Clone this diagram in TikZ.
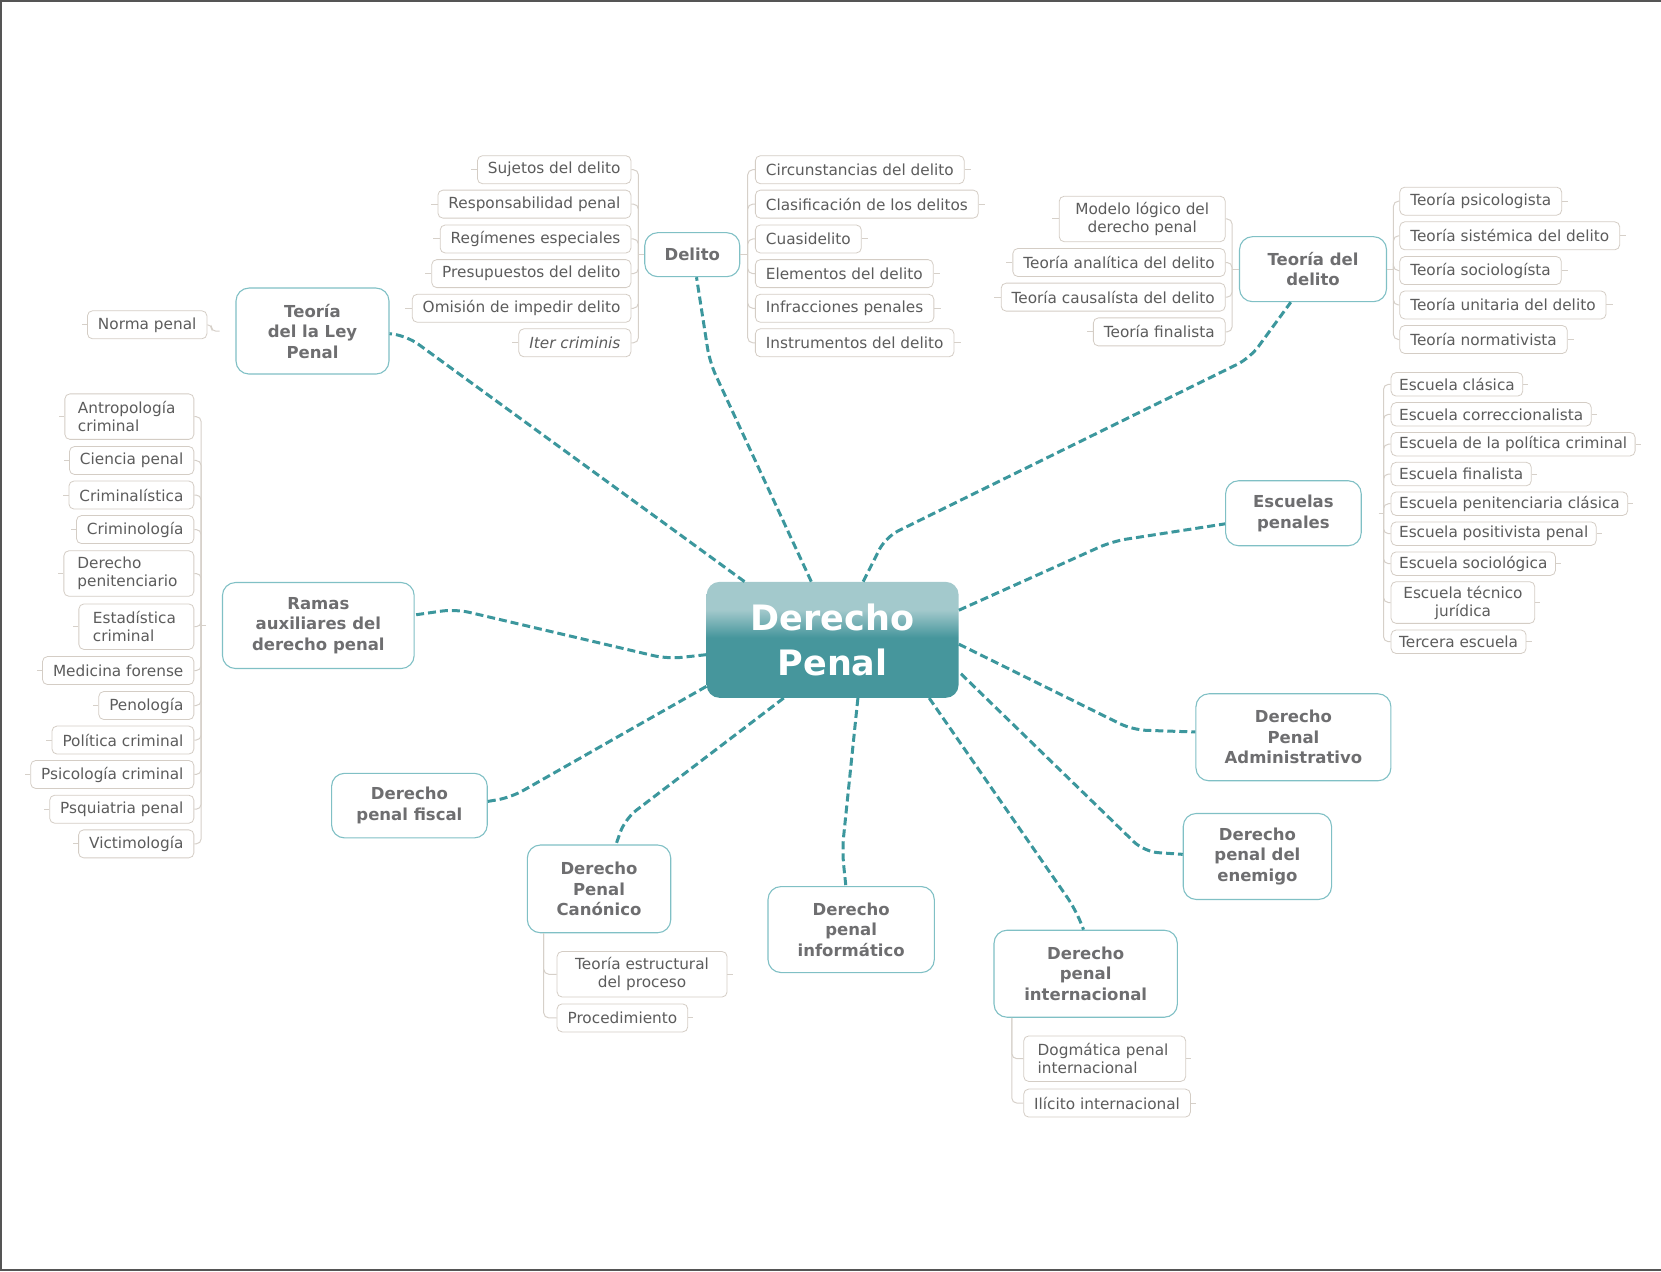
\documentclass[tikz,border=0pt]{standalone}
\usepackage{fontspec}
\setmainfont{DejaVu Sans}
\usetikzlibrary{calc}
\definecolor{tealc}{HTML}{3C979D}
\definecolor{brc}{HTML}{80C0C5}
\definecolor{btxt}{HTML}{6E6E70}
\definecolor{ltxt}{HTML}{5C5C5C}
\definecolor{leafc}{HTML}{D4CDC5}
\definecolor{lkc}{HTML}{D6D0C9}
\definecolor{hubdark}{HTML}{46969C}
\definecolor{hublight}{HTML}{A3C9CC}
\definecolor{framec}{HTML}{555555}
\pgfdeclareverticalshading{hubshade}{100bp}{color(0bp)=(hubdark); color(51bp)=(hubdark); color(63bp)=(hublight); color(100bp)=(hublight)}
\newcommand\leaffont{\fontsize{15.3pt}{18pt}\selectfont}
\newcommand\brfont{\fontsize{16.5pt}{20.5pt}\selectfont\bfseries}
\newcommand\hubfont{\fontsize{35pt}{45pt}\selectfont\bfseries}
\begin{document}
\begin{tikzpicture}[x=1.0593pt, y=-1.0593pt,
  hubst/.style={shading=hubshade, draw=none, rounded corners=13pt, minimum width=252pt, minimum height=116pt, text=white, font=\hubfont, align=center, inner sep=0pt},
  br/.style={draw=brc, line width=1.1pt, fill=white, rounded corners=13pt, text=btxt, font=\brfont, align=center, inner sep=2pt},
  leaf/.style={draw=leafc, line width=0.8pt, fill=white, rounded corners=5pt, text=ltxt, font=\leaffont, inner xsep=10.5pt, inner ysep=0pt, minimum height=28pt, align=left},
  leaftwo/.style={leaf, minimum height=45.5pt},
  escleaf/.style={leaf, inner xsep=8pt, minimum height=23.5pt},
  main/.style={draw=tealc, line width=3pt, dash pattern=on 8pt off 4pt, rounded corners=14pt},
  lk/.style={draw=lkc, line width=1pt, rounded corners=5pt}]
\useasboundingbox (0,0) rectangle (1568,1200);
\draw[framec, line width=2.2pt] (1568,1) -- (1,1) -- (1,1199) -- (1568,1199);

% hub
\node[hubst] (hub) at (786,604) {Derecho\\Penal};

% branches
\node[br, minimum width=153pt, minimum height=86pt] (ley) at (295,312.5) {Teoría\\del la Ley\\Penal};
\node[br, minimum width=95pt, minimum height=44pt] (delito) at (653.5,240.4) {Delito};
\node[br, minimum width=147pt, minimum height=65pt] (tdel) at (1239.5,254.1) {Teoría del\\delito};
\node[br, minimum width=135.6pt, minimum height=65pt] (esc) at (1221,484.5) {Escuelas\\penales};
\node[br, minimum width=195pt, minimum height=87pt] (adm) at (1221,696) {Derecho\\Penal\\Administrativo};
\node[br, minimum width=148.3pt, minimum height=86pt] (ene) at (1187,808.5) {Derecho\\penal del\\enemigo};
\node[br, minimum width=183.3pt, minimum height=87pt] (int) at (1024.9,919.2) {Derecho\\penal\\internacional};
\node[br, minimum width=166.3pt, minimum height=86pt] (inf) at (803.5,877.5) {Derecho\\penal\\informático};
\node[br, minimum width=143.4pt, minimum height=87.7pt] (can) at (565.5,839.1) {Derecho\\Penal\\Canónico};
\node[br, minimum width=155.7pt, minimum height=64.6pt] (fis) at (386.5,760.5) {Derecho\\penal fiscal};
\node[br, minimum width=191.7pt, minimum height=86pt] (ram) at (300.5,590.5) {Ramas\\auxiliares del\\derecho penal};

% main connectors
\draw[main] ($(hub.north west)+(36,0)$) -- (384,317) -- ($(ley.east)+(0,2.5)$);
\draw[main] ($(hub.north west)+(99,0)$) -- (670,342) -- ($(delito.south)+(4,0)$);
\draw[main] ($(hub.north west)+(148,0)$) -- (836,507) -- (1180,338) -- ($(tdel.south)+(-21,0)$);
\draw[main] ($(hub.north east)+(0,27)$) -- (1050,511) -- ($(esc.west)+(0,10)$);
\draw[main] ($(hub.north east)+(0,59)$) -- (1069,689) -- ($(adm.west)+(0,-5)$);
\draw[main] ($(hub.north east)+(2,87)$) -- (1080,804) -- ($(ene.west)+(0,-2)$);
\draw[main] ($(hub.south east)+(-28,0)$) -- (1015,858) -- ($(int.north)+(-2,0)$);
\draw[main] ($(hub.south west)+(143,0)$) -- (795,803) -- ($(inf.north)+(-5,0)$);
\draw[main] ($(hub.south west)+(73,0)$) -- (590,773) -- ($(can.north)+(16,0)$);
\draw[main] ($(hub.south west)+(0,-11)$) -- (482,753) -- ($(fis.east)+(0,-4)$);
\draw[main] ($(hub.west)+(0,14)$) -- (630,622) -- (430,575) -- ($(ram.east)+(0,-10)$);

% Teoria de la Ley
\node[leaf, anchor=east] (nor) at (195.7,306.6) {Norma penal};
\draw[lk, rounded corners=4pt] (nor.east) -- ++(4,0) |- ($(ley.west)+(-15,0)$);
\draw[lk] (nor.west) -- ++(-5,0);

% Delito left
\node[leaf, anchor=east] (dl1) at (596,160.2) {Sujetos del delito};
\node[leaf, anchor=east] (dl2) at (596,192.7) {Responsabilidad penal};
\node[leaf, anchor=east] (dl3) at (596,225.6) {Regímenes especiales};
\node[leaf, anchor=east] (dl4) at (596,258.3) {Presupuestos del delito};
\node[leaf, anchor=east] (dl5) at (596,291) {Omisión de impedir delito};
\node[leaf, anchor=east] (dl6) at (596,323.6) {\itshape Iter criminis};
\coordinate (dlb) at ($(delito.west)+(-5.5,0)$);
\draw[lk] (delito.west) -- (dlb);
\foreach \n in {dl1,dl2,dl3,dl4,dl5,dl6} {\draw[lk] (dlb) |- (\n.east); \draw[lk] (\n.west) -- ++(-6,0);}

% Delito right
\node[leaf, anchor=west] (dr1) at (712.7,160.2) {Circunstancias del delito};
\node[leaf, anchor=west] (dr2) at (712.7,192.7) {Clasificación de los delitos};
\node[leaf, anchor=west] (dr3) at (712.7,225.6) {Cuasidelito};
\node[leaf, anchor=west] (dr4) at (712.7,258.3) {Elementos del delito};
\node[leaf, anchor=west] (dr5) at (712.7,291) {Infracciones penales};
\node[leaf, anchor=west] (dr6) at (712.7,323.6) {Instrumentos del delito};
\coordinate (drb) at ($(delito.east)+(7,0)$);
\draw[lk] (delito.east) -- (drb);
\foreach \n in {dr1,dr2,dr3,dr4,dr5,dr6} {\draw[lk] (drb) |- (\n.west); \draw[lk] (\n.east) -- ++(6,0);}

% Teoria del delito left
\node[leaftwo, anchor=east, align=center, minimum width=166pt] (tl1) at (1157,206.7) {Modelo lógico del\\derecho penal};
\node[leaf, anchor=east] (tl2) at (1157,247.8) {Teoría analítica del delito};
\node[leaf, anchor=east] (tl3) at (1157,280.5) {Teoría causalísta del delito};
\node[leaf, anchor=east] (tl4) at (1157,313.3) {Teoría finalista};
\coordinate (tlb) at ($(tdel.west)+(-6.5,0)$);
\draw[lk] (tdel.west) -- (tlb);
\foreach \n in {tl1,tl2,tl3,tl4} {\draw[lk] (tlb) |- (\n.east); \draw[lk] (\n.west) -- ++(-6,0);}

% Teoria del delito right
\node[leaf, anchor=west] (tr1) at (1321,189.9) {Teoría psicologista};
\node[leaf, anchor=west] (tr2) at (1321,222.6) {Teoría sistémica del delito};
\node[leaf, anchor=west] (tr3) at (1321,255.4) {Teoría sociologísta};
\node[leaf, anchor=west] (tr4) at (1321,287.9) {Teoría unitaria del delito};
\node[leaf, anchor=west] (tr5) at (1321,320.5) {Teoría normativista};
\coordinate (trb) at ($(tdel.east)+(6,0)$);
\draw[lk] (tdel.east) -- (trb);
\foreach \n in {tr1,tr2,tr3,tr4,tr5} {\draw[lk] (trb) |- (\n.west); \draw[lk] (\n.east) -- ++(6,0);}

% Escuelas penales
\node[escleaf, anchor=west] (es1) at (1312.8,362.8) {Escuela clásica};
\node[escleaf, anchor=west] (es2) at (1312.8,391.1) {Escuela correccionalista};
\node[escleaf, anchor=west] (es3) at (1312.8,419.3) {Escuela de la política criminal};
\node[escleaf, anchor=west] (es4) at (1312.8,447.5) {Escuela finalista};
\node[escleaf, anchor=west] (es5) at (1312.8,475.5) {Escuela penitenciaria clásica};
\node[escleaf, anchor=west] (es6) at (1312.8,503.8) {Escuela positivista penal};
\node[escleaf, anchor=west] (es7) at (1312.8,532.1) {Escuela sociológica};
\node[escleaf, anchor=west, minimum height=41.7pt, minimum width=143.7pt, align=center] (es8) at (1312.8,568.8) {Escuela técnico\\jurídica};
\node[escleaf, anchor=west] (es9) at (1312.8,605.8) {Tercera escuela};
\coordinate (esb) at ($(esc.east)+(20.5,0)$);
\draw[lk] ($(esc.east)+(16,0)$) -- (esb);
\foreach \n in {es1,es2,es3,es4,es5,es6,es7,es8,es9} {\draw[lk] (esb) |- (\n.west); \draw[lk] (\n.east) -- ++(5,0);}

% Ramas auxiliares
\node[leaftwo, anchor=east, text width=103pt, inner xsep=13pt] (ra1) at (183.4,393.3) {Antropología\\criminal};
\node[leaf, anchor=east] (ra2) at (183.4,434.7) {Ciencia penal};
\node[leaf, anchor=east] (ra3) at (183.4,467.3) {Criminalística};
\node[leaf, anchor=east] (ra4) at (183.4,499.9) {Criminología};
\node[leaftwo, anchor=east, text width=103pt, inner xsep=13.5pt] (ra5) at (183.4,541.4) {Derecho\\penitenciario};
\node[leaftwo, anchor=east, text width=87pt, inner xsep=14pt] (ra6) at (183.4,591.6) {Estadística\\criminal};
\node[leaf, anchor=east] (ra7) at (183.4,633) {Medicina forense};
\node[leaf, anchor=east] (ra8) at (183.4,666) {Penología};
\node[leaf, anchor=east] (ra9) at (183.4,698.6) {Política criminal};
\node[leaf, anchor=east] (ra10) at (183.4,731.1) {Psicología criminal};
\node[leaf, anchor=east] (ra11) at (183.4,763.9) {Psquiatria penal};
\node[leaf, anchor=east] (ra12) at (183.4,796.6) {Victimología};
\coordinate (rab) at ($(ram.west)+(-19.6,0)$);
\draw[lk] ($(ram.west)+(-15,0)$) -- (rab);
\foreach \n in {ra1,ra2,ra3,ra4,ra5,ra6,ra7,ra8,ra9,ra10,ra11,ra12} {\draw[lk] (rab) |- (\n.east); \draw[lk] (\n.west) -- ++(-5,0);}

% Canonico
\node[leaftwo, anchor=west, align=center, minimum width=170pt] (ce1) at (525.5,919.7) {Teoría estructural\\del proceso};
\node[leaf, anchor=west] (ce2) at (525.5,960.9) {Procedimiento};
\coordinate (cab) at ($(can.south west)+(16,0)$);
\foreach \n in {ce1,ce2} {\draw[lk] (cab) |- (\n.west); \draw[lk] (\n.east) -- ++(5,0);}

% Internacional
\node[leaftwo, anchor=west, text width=134pt, inner xsep=14pt] (ie1) at (966,999.4) {Dogmática penal\\internacional};
\node[leaf, anchor=west] (ie2) at (966,1041.3) {Ilícito internacional};
\coordinate (inb) at ($(int.south west)+(17.3,0)$);
\foreach \n in {ie1,ie2} {\draw[lk] (inb) |- (\n.west); \draw[lk] (\n.east) -- ++(5,0);}
\end{tikzpicture}
\end{document}
